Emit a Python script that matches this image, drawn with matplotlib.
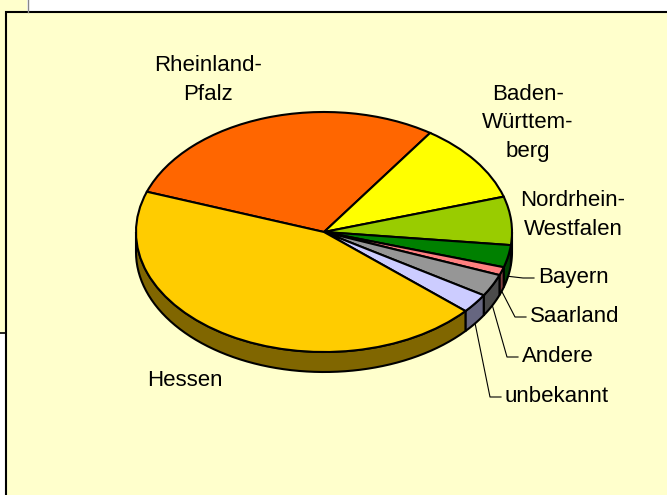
import numpy as np
import matplotlib.pyplot as plt
from matplotlib.patches import Polygon, Rectangle

plt.rcParams['font.family'] = ['Liberation Sans', 'DejaVu Sans']

# data (shares in percent)
labels = ['Rheinland-\nPfalz', 'Baden-\nWürttem-\nberg', 'Nordrhein-\nWestfalen',
          'Bayern', 'Saarland', 'Andere', 'unbekannt', 'Hessen']
shares = [29.1, 10.7, 6.5, 3.0, 1.1, 3.0, 2.6, 44.0]
top_colors = ['#FF6600', '#FFFF00', '#99CC00', '#008000', '#FF8080',
              '#969696', '#CCCCFF', '#FFCC00']
side_colors = ['#803300', '#808000', '#4D6600', '#004000', '#804040',
               '#4B4B4B', '#666680', '#806600']

# label placement in pixels (x, y, alignment), leader for small slices
label_pos = [(208, 80, 'center'), (528, 123, 'center'), (573, 215, 'center'),
             (538, 278, 'left'), (530, 317, 'left'), (522, 357, 'left'),
             (505, 397, 'left'), (185, 381, 'center')]
has_leader = [False, False, False, True, True, True, True, False]

W, H = 667, 495
cx, cy = 324, 232      # pie centre in pixels
rx, ry = 188, 120      # ellipse radii
depth = 20             # thickness of the 3d side
start = 160.4

fig = plt.figure(figsize=(W / 100, H / 100), dpi=100)
fig.patch.set_facecolor('white')

# background frames
bg = fig.add_axes([0, 0, 1, 1])
bg.set_xlim(0, W)
bg.set_ylim(H, 0)
bg.axis('off')
bg.add_patch(Rectangle((0, 0), 27, 333, fc='#FFFFCC', ec='none'))
bg.plot([27.5, 27.5], [0, 12], color='#888888', lw=1)
bg.plot([0, 6], [333, 333], color='black', lw=1.2)
bg.add_patch(Rectangle((6, 12), 700, 520, fc='#FFFFCC', ec='black', lw=1.5))

# pie axes: unit circle mapped onto the ellipse
pa = fig.add_axes([0, 0, 1, 1])
pa.set_facecolor('none')
wedges, _ = pa.pie(shares, colors=top_colors, startangle=start, counterclock=False,
                   wedgeprops=dict(edgecolor='black', linewidth=1.5))
pa.set_aspect('auto')
pa.set_xlim((0 - cx) / rx, (W - cx) / rx)
pa.set_ylim((cy - H) / ry, cy / ry)
pa.axis('off')

d = depth / ry
total = sum(shares)
t = start
mids = []
for share, sc in zip(shares, side_colors):
    t2 = t - share / total * 360
    mids.append((t + t2) / 2)
    for lo, hi in [(-180, 0), (180, 360), (-540, -360)]:
        a, b = max(t2, lo), min(t, hi)
        if b > a:
            ts = np.radians(np.linspace(a, b, 60))
            xs = np.cos(ts)
            ys = np.sin(ts)
            pts = np.column_stack([np.r_[xs, xs[::-1]], np.r_[ys, ys[::-1] - d]])
            pa.add_patch(Polygon(pts, closed=True, fc=sc, ec='black', lw=1.5, zorder=0.5))
    t = t2

# labels and leader lines
for lab, (lx, ly, ha), lead, m in zip(labels, label_pos, has_leader, mids):
    pa.text(lx, ly, lab, transform=bg.transData, ha=ha, va='center',
            fontsize=16, linespacing=1.5, multialignment='center', color='black')
    if lead:
        mr = np.radians(m)
        sx = cx + rx * np.cos(mr)
        sy = cy - ry * np.sin(mr) + depth
        pa.plot([sx, lx - 15, lx - 4], [sy, ly, ly], color='black', lw=0.8,
                transform=bg.transData, zorder=0.4)

fig.savefig('out.png', dpi=100, facecolor='white')
